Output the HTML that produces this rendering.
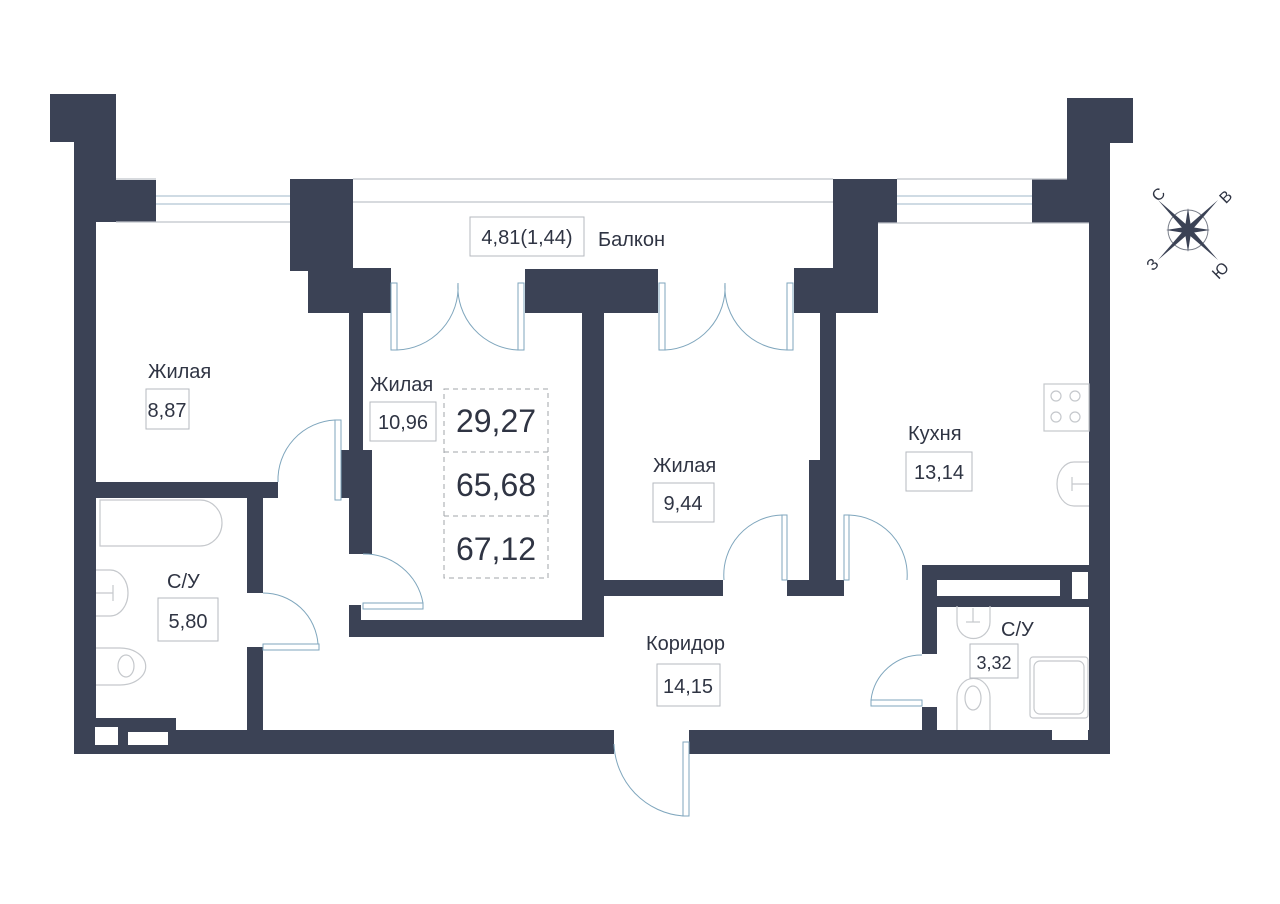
<!DOCTYPE html>
<html><head><meta charset="utf-8"><style>
html,body{margin:0;padding:0;background:#fff;}
svg{display:block}
text{font-family:"Liberation Sans Narrow","Liberation Sans",sans-serif;fill:#2f3443}
</style></head><body>
<svg width="1280" height="904" viewBox="0 0 1280 904" xmlns="http://www.w3.org/2000/svg">
<g fill="#3b4255">
<!-- left pillar -->
<rect x="50" y="94" width="66" height="48"/>
<rect x="74" y="94" width="42" height="100"/>
<rect x="74" y="180" width="82" height="42"/>
<rect x="74" y="180" width="22" height="574"/>
<!-- left balcony block -->
<rect x="290" y="179" width="63" height="92"/>
<rect x="308" y="268" width="83" height="45"/>
<rect x="349" y="300" width="14" height="152"/>
<rect x="341" y="450" width="22" height="48"/>
<rect x="349" y="450" width="23" height="104"/>
<!-- middle block -->
<rect x="525" y="269" width="133" height="44"/>
<rect x="582" y="300" width="22" height="337"/>
<rect x="349" y="620" width="248" height="17"/>
<rect x="349" y="605" width="12" height="20"/>
<!-- right balcony block -->
<rect x="833" y="179" width="64" height="44"/>
<rect x="833" y="179" width="45" height="100"/>
<rect x="794" y="268" width="84" height="45"/>
<rect x="820" y="300" width="16" height="296"/>
<rect x="809" y="460" width="20" height="136"/>
<!-- right window block & pillar -->
<rect x="1032" y="179" width="78" height="44"/>
<rect x="1067" y="98" width="66" height="45"/>
<rect x="1067" y="98" width="43" height="90"/>
<rect x="1089" y="179" width="21" height="575"/>
<!-- room3 bottom -->
<rect x="604" y="580" width="119" height="16"/>
<rect x="787" y="580" width="57" height="16"/>
<!-- bath1 walls -->
<rect x="74" y="482" width="204" height="16"/>
<rect x="247" y="482" width="16" height="111"/>
<rect x="247" y="647" width="16" height="100"/>
<!-- kitchen bottom -->
<rect x="922" y="565" width="188" height="42"/>
<rect x="922" y="565" width="15" height="89"/>
<rect x="922" y="707" width="15" height="40"/>
<!-- bottom wall -->
<rect x="74" y="730" width="540" height="24"/>
<rect x="74" y="718" width="102" height="36"/>
<rect x="689" y="730" width="421" height="24"/>
</g>
<g fill="#fff">
<rect x="937" y="580" width="123" height="16"/>
<rect x="1072" y="572" width="16" height="27"/>
<rect x="95" y="727" width="23" height="18"/>
<rect x="128" y="732" width="40" height="13"/>
<rect x="1052" y="728" width="36" height="12"/>
</g>
<!-- windows -->
<g stroke="#9fb7c9" stroke-width="1" fill="none">
<line x1="156" y1="196" x2="290" y2="196"/><line x1="156" y1="204" x2="290" y2="204"/>
<line x1="897" y1="196" x2="1032" y2="196"/><line x1="897" y1="204" x2="1032" y2="204"/>
</g>
<g stroke="#bfc3c9" stroke-width="1.2" fill="none">
<line x1="116" y1="179" x2="156" y2="179"/><line x1="116" y1="222" x2="290" y2="222"/>
<line x1="353" y1="179" x2="833" y2="179"/><line x1="353" y1="202" x2="833" y2="202"/>
<line x1="897" y1="179" x2="1067" y2="179"/><line x1="878" y1="223" x2="1089" y2="223"/>
</g>
<!-- doors -->
<g stroke="#7fa6bd" stroke-width="1" fill="none">
<rect x="391" y="283" width="6" height="67"/><rect x="518" y="283" width="6" height="67"/>
<path d="M397 350 A63 63 0 0 0 458 283"/><path d="M518 350 A63 63 0 0 1 458 283"/>
<rect x="659" y="283" width="6" height="67"/><rect x="787" y="283" width="6" height="67"/>
<path d="M665 350 A63 63 0 0 0 725 283"/><path d="M787 350 A63 63 0 0 1 725 283"/>
<rect x="335" y="420" width="6" height="80"/><path d="M335 420 A60 60 0 0 0 278 482"/>
<rect x="363" y="603" width="60" height="6"/><path d="M363 554 A60 60 0 0 1 423 603"/>
<rect x="263" y="644" width="56" height="6"/><path d="M263 593 A55 55 0 0 1 318 644"/>
<rect x="782" y="515" width="5" height="65"/><path d="M782 515 A60 60 0 0 0 724 580"/>
<rect x="844" y="515" width="5" height="65"/><path d="M849 515 A60 60 0 0 1 907 580"/>
<rect x="871" y="700" width="51" height="6"/><path d="M922 655 A51 51 0 0 0 871 700"/>
<rect x="683" y="742" width="6" height="74"/><path d="M614 744 A75 75 0 0 0 683 816"/>
</g>
<!-- fixtures -->
<g stroke="#c5c8cc" stroke-width="1.2" fill="none">
<path d="M100 500 H200 A22 23 0 0 1 200 546 H100 Z"/>
<path d="M96 570 H110 A18 23 0 0 1 110 616 H96"/><line x1="96" y1="593" x2="113" y2="593"/><line x1="113" y1="585" x2="113" y2="601"/>
<path d="M96 648 H120 A25 18 0 0 1 120 685 H96"/><ellipse cx="126" cy="666" rx="8" ry="11"/>
<path d="M957 606 V622 A16 16 0 0 0 990 622 V606"/><line x1="973" y1="608" x2="973" y2="622"/><line x1="966" y1="622" x2="980" y2="622"/>
<path d="M957 730 V697 A16 18 0 0 1 990 697 V730"/><ellipse cx="973" cy="698" rx="8" ry="12"/>
<rect x="1030" y="657" width="58" height="61" rx="3"/><rect x="1034" y="661" width="50" height="53" rx="6"/>
<rect x="1044" y="384" width="45" height="47"/>
<circle cx="1056" cy="396" r="5"/><circle cx="1075" cy="396" r="5"/><circle cx="1056" cy="417" r="5"/><circle cx="1075" cy="417" r="5"/>
<path d="M1089 462 H1074 A17 22 0 0 0 1074 506 H1089"/><line x1="1072" y1="484" x2="1089" y2="484"/><line x1="1072" y1="477" x2="1072" y2="491"/>
</g>
<!-- labels -->
<g fill="#fff" stroke="#b5b9bf" stroke-width="1">
<rect x="470" y="217" width="114" height="39"/>
<rect x="146" y="389" width="43" height="40"/>
<rect x="370" y="402" width="66" height="39"/>
<rect x="653" y="483" width="61" height="39"/>
<rect x="906" y="452" width="66" height="39"/>
<rect x="158" y="598" width="60" height="43"/>
<rect x="657" y="664" width="63" height="42"/>
<rect x="970" y="644" width="48" height="34"/>
</g>
<g fill="none" stroke="#a0a4aa" stroke-width="1" stroke-dasharray="5,4">
<rect x="444" y="389" width="104" height="189"/>
<line x1="444" y1="452" x2="548" y2="452"/><line x1="444" y1="516" x2="548" y2="516"/>
</g>
<g font-size="20">
<text x="527" y="244" text-anchor="middle">4,81(1,44)</text>
<text x="598" y="246">Балкон</text>
<text x="148" y="378">Жилая</text>
<text x="167" y="417" text-anchor="middle">8,87</text>
<text x="370" y="391">Жилая</text>
<text x="403" y="429" text-anchor="middle">10,96</text>
<text x="653" y="472">Жилая</text>
<text x="683" y="510" text-anchor="middle">9,44</text>
<text x="908" y="440">Кухня</text>
<text x="939" y="479" text-anchor="middle">13,14</text>
<text x="167" y="588">С/У</text>
<text x="188" y="628" text-anchor="middle">5,80</text>
<text x="646" y="650">Коридор</text>
<text x="688" y="693" text-anchor="middle">14,15</text>
<text x="1001" y="636">С/У</text>
<text x="994" y="669" text-anchor="middle" font-size="18">3,32</text>
</g>
<g font-size="32" text-anchor="middle">
<text x="496" y="432">29,27</text>
<text x="496" y="496">65,68</text>
<text x="496" y="560">67,12</text>
</g>
<!-- compass -->
<g transform="translate(1188,230)">
<circle r="20" fill="none" stroke="#7a7f8a" stroke-width="1"/>
<g fill="#3b4255">
<polygon points="0,-4 -30,-30 -4,0 -30,30 0,4 30,30 4,0 30,-30" transform="rotate(0)"/>
<polygon points="0,-22 3,-3 22,0 3,3 0,22 -3,3 -22,0 -3,-3"/>
</g>
<g font-size="16" fill="#3b4255" text-anchor="middle">
<text x="-30" y="-30" transform="rotate(-45 -30 -36)">С</text>
<text x="38" y="-28" transform="rotate(-45 38 -33)">В</text>
<text x="-36" y="40" transform="rotate(-45 -36 34)">З</text>
<text x="32" y="46" transform="rotate(-45 32 40)">Ю</text>
</g>
</g>
</svg>
</body></html>
